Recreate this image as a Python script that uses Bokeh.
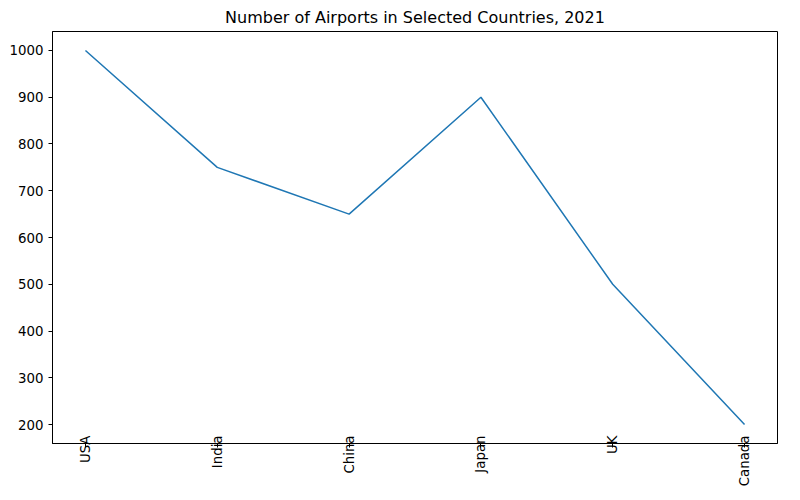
from math import pi
from bokeh.plotting import figure
from bokeh.models import FixedTicker, Range1d
from bokeh.embed import file_html
from bokeh.resources import INLINE

countries = ["USA", "India", "China", "Japan", "UK", "Canada"]
airports = [1000, 750, 650, 900, 500, 200]
y_ticks = [200, 300, 400, 500, 600, 700, 800, 900, 1000]

xs = list(range(len(countries)))

p = figure(frame_width=725, frame_height=412, output_backend="svg", toolbar_location=None,
           x_range=Range1d(-0.25, 5.25), y_range=Range1d(159.4, 1040.6),
           min_border_left=52, min_border_right=7, min_border_top=29, min_border_bottom=0)
p.line(xs, airports, line_color="#1f77b4", line_width=1.5)

p.title.text = "Number of Airports in Selected Countries, 2021"
p.title.align = "center"
p.title.text_font = "DejaVu Sans"
p.title.text_font_size = "12pt"
p.title.text_font_style = "normal"
p.title.text_color = "black"

p.xaxis.ticker = FixedTicker(ticks=xs)
p.xaxis.major_label_overrides = {i: c for i, c in enumerate(countries)}
p.xaxis.major_label_orientation = pi / 2
p.xaxis.major_label_standoff = -12
p.yaxis.ticker = FixedTicker(ticks=y_ticks)
for ax in (p.xaxis, p.yaxis):
    ax.minor_tick_line_color = None
    ax.major_label_text_font = "DejaVu Sans"
    ax.major_label_text_font_size = "10pt"
    ax.major_label_text_color = "black"
    ax.axis_line_color = "black"
    ax.major_tick_line_color = "black"
    ax.major_tick_out = 4
    ax.major_tick_in = 0
p.xgrid.grid_line_color = None
p.ygrid.grid_line_color = None
p.outline_line_color = "black"
p.outline_line_alpha = 1

open("out.html", "w").write(file_html(p, INLINE))
